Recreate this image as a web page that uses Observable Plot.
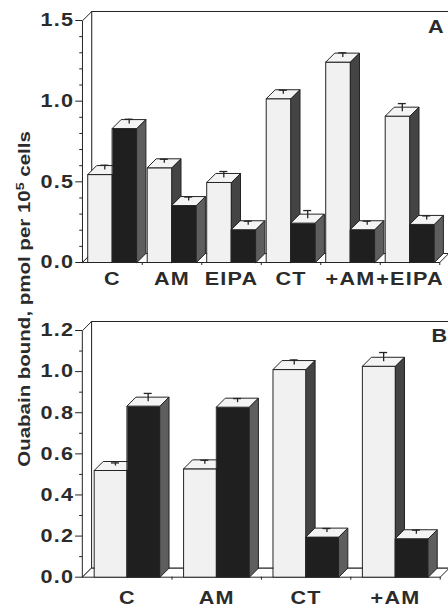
<!DOCTYPE html>
<html>
<head>
<meta charset="utf-8">
<script src="https://cdn.jsdelivr.net/npm/d3@7"></script>
<script src="https://cdn.jsdelivr.net/npm/@observablehq/plot@0.6"></script>
<style>
  body { margin: 0; background: #fff; }
  #wrap { position: relative; width: 448px; height: 608px; background: #fff; overflow: hidden; }
  #ytitle {
    position: absolute; left: 25px; top: 299px; white-space: nowrap;
    font-family: "Liberation Sans", Arial, sans-serif; font-weight: bold; font-size: 16px; color: #2b2b2b;
    transform: translate(-50%, -50%) rotate(-90deg) scale(1.28, 1);
  }
  #ytitle sup { font-size: 11px; line-height: 0; }
</style>
</head>
<body>
<div id="wrap">
  <div id="pa" style="position:absolute;left:0;top:0"></div>
  <div id="pb" style="position:absolute;left:0;top:290px"></div>
  <div id="ytitle">Ouabain bound, pmol per 10<sup>5</sup> cells</div>
</div>
<script>
// ---- Panel A data ----
const groupsA = ["C", "AM", "EIPA", "CT", "+AM", "+EIPA"];
const whiteA = [0.545, 0.587, 0.496, 1.015, 1.242, 0.907];
const blackA = [0.83, 0.353, 0.203, 0.244, 0.203, 0.236];
const whiteErrA = [0.03, 0.025, 0.04, 0.025, 0.03, 0.05];
const blackErrA = [0.03, 0.025, 0.025, 0.05, 0.025, 0.025];
const majorTicksA = [0, 0.5, 1.0, 1.5];
const minorTicksA = [0.1, 0.2, 0.3, 0.4, 0.6, 0.7, 0.8, 0.9, 1.1, 1.2, 1.3, 1.4];

// ---- Panel B data ----
const groupsB = ["C", "AM", "CT", "+AM"];
const whiteB = [0.519, 0.527, 1.010, 1.026];
const blackB = [0.832, 0.827, 0.195, 0.187];
const whiteErrB = [0.015, 0.02, 0.025, 0.045];
const blackErrB = [0.04, 0.02, 0.02, 0.02];
const majorTicksB = [0, 0.2, 0.4, 0.6, 0.8, 1.0, 1.2];
const minorTicksB = [0.1, 0.3, 0.5, 0.7, 0.9, 1.1];

const DEPTH = 9;       // oblique depth of the 3-D effect, px
const CAP = 4;         // half width of error-bar caps, px
const INK = "#242424";

function panel(o) {
  const W = 448;
  const n = o.groups.length;
  const x0 = -0.5, x1 = n - 0.5;
  const pxX = (W - o.marginLeft - o.marginRight) / (x1 - x0);
  const pxY = (o.height - o.marginTop - o.marginBottom) / o.yMax;
  const dx = DEPTH / pxX, dy = DEPTH / pxY;
  const cap = CAP / pxX;

  const polys = [];
  const poly = (id, fill, pts) => pts.forEach(([x, y]) => polys.push({id, fill, x, y}));
  poly("wall", "#ffffff", [[x0 + dx, dy], [x1 + dx, dy], [x1 + dx, o.yMax + dy], [x0 + dx, o.yMax + dy]]);
  poly("left", "#ffffff", [[x0, 0], [x0 + dx, dy], [x0 + dx, o.yMax + dy], [x0, o.yMax]]);
  poly("floor", "#ffffff", [[x0, 0], [x1, 0], [x1 + dx, dy], [x0 + dx, dy]]);

  const errs = [];
  const bar = (id, xl, xr, v, err, front, side) => {
    poly(id + "f", front, [[xl, 0], [xr, 0], [xr, v], [xl, v]]);
    poly(id + "t", "#f4f4f4", [[xl, v], [xr, v], [xr + dx, v + dy], [xl + dx, v + dy]]);
    poly(id + "s", side, [[xr, 0], [xr + dx, dy], [xr + dx, v + dy], [xr, v]]);
    const xc = (xl + xr) / 2 + dx / 2;
    errs.push({xc, y1: v + dy / 2, y2: v + dy / 2 + err, xa: xc - cap, xb: xc + cap});
  };
  o.groups.forEach((g, i) => {
    bar("w" + i, i - o.barW, i, o.white[i], o.whiteErr[i], "#f1f1f1", "#444444");
    bar("b" + i, i, i + o.barW, o.black[i], o.blackErr[i], "#1f1f1f", "#5e5e5e");
  });

  const halfTicks = d3.range(n + 1).map(i => i - 0.5);

  return Plot.plot({
    width: W,
    height: o.height,
    marginTop: o.marginTop,
    marginBottom: o.marginBottom,
    marginLeft: o.marginLeft,
    marginRight: o.marginRight,
    x: {domain: [x0, x1]},
    y: {domain: [0, o.yMax]},
    color: {type: "identity"},
    style: {fontFamily: "Liberation Sans, Arial, sans-serif", fontWeight: "bold", fontSize: "18px", letterSpacing: "1px", color: "#2b2b2b", background: "#fff", overflow: "visible"},
    marks: [
      Plot.line(polys, {x: "x", y: "y", z: "id", fill: "fill", stroke: INK, strokeWidth: 1, curve: "linear-closed"}),
      Plot.ruleX(errs, {x: "xc", y1: "y1", y2: "y2", stroke: INK, strokeWidth: 1.3}),
      Plot.ruleY(errs, {y: "y2", x1: "xa", x2: "xb", stroke: INK, strokeWidth: 1.3}),
      Plot.axisY({ticks: o.majorTicks, tickSize: 7, tickPadding: 1.5, tickFormat: d3.format(".1f"), label: null, stroke: INK}),
      Plot.axisY({ticks: o.minorTicks, tickSize: 3, tickFormat: () => "", label: null, stroke: INK}),
      Plot.axisX({ticks: halfTicks.slice(1), tickSize: 3, tickFormat: () => "", label: null, stroke: INK}),
      Plot.text(o.groups, {x: (d, i) => i, y: 0, text: d => d, lineAnchor: "top", dy: o.labelDy, fill: "#2b2b2b"}),
      Plot.text([o.letter], {frameAnchor: "top-right", text: d => d, textAnchor: "end", lineAnchor: "top", dx: o.letterDx, dy: o.letterDy, fill: "#2b2b2b", fontSize: 18})
    ]
  });
}

function stretchText(svg, s) {
  svg.querySelectorAll("text").forEach(t => {
    const tr = t.getAttribute("transform");
    if (tr) {
      t.setAttribute("transform", tr + ` scale(${s},1)`);
    } else {
      const x = +(t.getAttribute("x") || 0), y = +(t.getAttribute("y") || 0);
      t.removeAttribute("x"); t.removeAttribute("y");
      t.setAttribute("transform", `translate(${x},${y}) scale(${s},1)`);
    }
  });
}

const plotA = panel({
  groups: groupsA, white: whiteA, black: blackA, whiteErr: whiteErrA, blackErr: blackErrA,
  majorTicks: majorTicksA, minorTicks: minorTicksA, yMax: 1.5,
  height: 290, marginTop: 20, marginBottom: 28, marginLeft: 82.25, marginRight: 8.75,
  barW: 0.41, letter: "A", labelDy: 9.5, letterDx: 5, letterDy: 0
});
const plotB = panel({
  groups: groupsB, white: whiteB, black: blackB, whiteErr: whiteErrB, blackErr: blackErrB,
  majorTicks: majorTicksB, minorTicks: minorTicksB, yMax: 1.2,
  height: 318, marginTop: 40, marginBottom: 31.3, marginLeft: 82.1, marginRight: 8.3,
  barW: 0.366, letter: "B", labelDy: 14, letterDx: 8, letterDy: -1
});
stretchText(plotA, 1.2);
stretchText(plotB, 1.2);
document.getElementById("pa").appendChild(plotA);
document.getElementById("pb").appendChild(plotB);
</script>
</body>
</html>
